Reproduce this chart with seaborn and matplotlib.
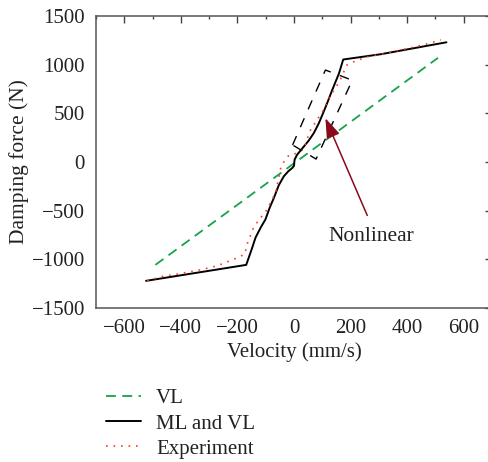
import numpy as np
import pandas as pd
import seaborn as sns
import matplotlib
matplotlib.use("Agg")
import matplotlib.pyplot as plt
from matplotlib.ticker import MultipleLocator

# ---- data ----
vl_velocity = [-490, 509]
vl_force = [-1057, 1070]

ml_velocity = [-523, -169, -150, -136, -118, -101, -86, -71, -54, -36, -20, -6, 0, 2, 11, 35, 52, 70, 88, 105, 120, 135, 159, 174, 306, 539]
ml_force = [-1221, -1057, -900, -777, -675, -590, -470, -368, -240, -147, -95, -61, -40, 24, 75, 160, 220, 297, 400, 517, 625, 739, 910, 1053, 1107, 1230]

exp_velocity = [-519, -466, -413, -331, -272, -236, -213, -174, -166, -142, -125, -97, -65, -56,
                -45, -18, 11, 35, 56, 103, 123, 162, 175, 188, 218, 259, 312, 400, 460, 519]
exp_force = [-1221, -1176, -1152, -1108, -1067, -1026, -999, -948, -846, -665, -600, -495, -317, -191,
             -35, 70, 90, 133, 318, 528, 654, 834, 920, 1000, 1039, 1080, 1110, 1165, 1205, 1255]

box_velocity = [-5, 111, 206, 78, -5]
box_force = [175, 945, 840, 30, 175]

x_ticks = [-600, -400, -200, 0, 200, 400, 600]
y_ticks = [-1500, -1000, -500, 0, 500, 1000, 1500]

sns.set_theme(style="white")
plt.rcParams['font.family'] = ['Liberation Serif', 'DejaVu Serif']

FS = 15

fig = plt.figure(figsize=(4.88, 4.62), dpi=100)
ax = fig.add_axes([96 / 488, 1 - 308 / 462, (492 - 96) / 488, (308 - 16) / 462])

sns.lineplot(x=vl_velocity, y=vl_force, sort=False, estimator=None, ax=ax,
             color="#17a24a", lw=1.3, linestyle=(0, (5.5, 3.5)), label="VL")
sns.lineplot(x=ml_velocity, y=ml_force, sort=False, estimator=None, ax=ax,
             color="black", lw=1.4, label="ML and VL")
sns.lineplot(x=exp_velocity, y=exp_force, sort=False, estimator=None, ax=ax,
             color="#ff3b1f", lw=1.2, linestyle=(0, (1, 3.5)), label="Experiment")
sns.lineplot(x=box_velocity, y=box_force, sort=False, estimator=None, ax=ax,
             color="black", lw=1.0, linestyle=(0, (7, 7)), legend=False)

ax.annotate("", xy=(111, 450), xytext=(259, -549),
            arrowprops=dict(arrowstyle="-|>,head_length=1.0,head_width=0.35",
                            color="#8b0a1a", lw=1.1, shrinkA=0, shrinkB=0))
ax.text(272, -770, "Nonlinear", fontsize=FS + 0.5, ha="center", va="center", color="#222222")

ax.set_xlim(-700, 700)
ax.set_ylim(-1500, 1500)
ax.set_xticks(x_ticks)
ax.set_yticks(y_ticks)
ax.set_xticklabels(["\u2212600", "\u2212400", "\u2212200", "0", "200", "400", "600"])
ax.set_yticklabels(["\u22121500", "\u22121000", "\u2212500", "0", "500", "1000", "1500"])
ax.xaxis.set_minor_locator(MultipleLocator(100))
ax.yaxis.set_minor_locator(MultipleLocator(250))
ax.tick_params(which="both", direction="in", top=True, right=True, colors="#444444",
               labelcolor="#222222", labelsize=FS, width=1.0)
ax.tick_params(which="major", length=5, pad=8)
ax.tick_params(which="minor", length=2.5)
for s in ax.spines.values():
    s.set_color("#555555")
    s.set_linewidth(1.1)

ax.set_xlabel("Velocity (mm/s)", fontsize=FS, color="#222222")
ax.set_ylabel("Damping force (N)", fontsize=FS + 0.5, color="#222222")
ax.yaxis.set_label_coords((19 - 96) / 396, 0.5)
ax.xaxis.set_label_coords(0.5, -(352 - 308) / 292)
ax.xaxis.label.set_va("center")
ax.yaxis.label.set_va("center")

handles, labels = ax.get_legend_handles_labels()
ax.legend_.remove()
fig.legend(handles, labels, loc="upper left", bbox_to_anchor=(87 / 488, 1 - 370 / 462),
           frameon=False, fontsize=FS, handlelength=1.7, handletextpad=0.72,
           labelspacing=0.27, borderpad=0.4, labelcolor="#222222")

fig.savefig("out.png", dpi=100)
